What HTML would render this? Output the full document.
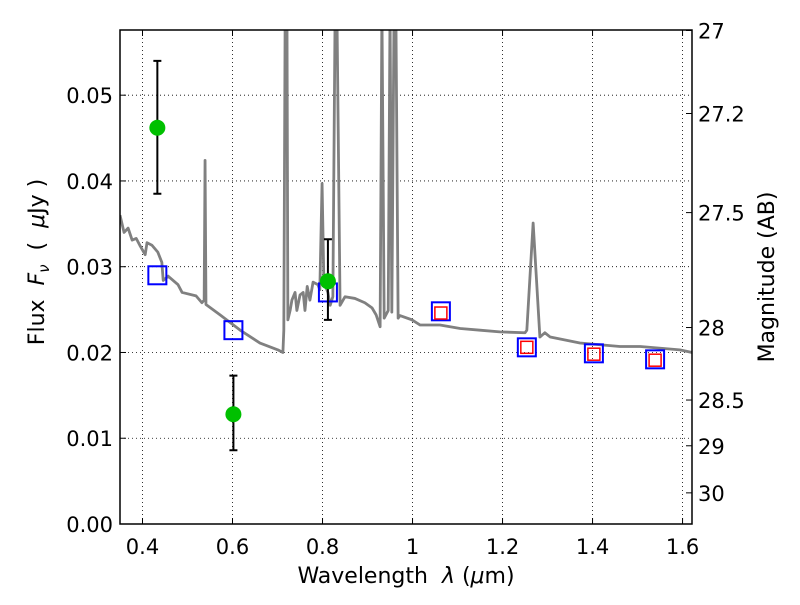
<!DOCTYPE html>
<html><head><meta charset="utf-8"><style>
body{margin:0;background:#fff;}
svg text{font-family:"DejaVu Sans","Liberation Sans",sans-serif;fill:#000;}
</style></head><body>
<svg id="c" width="800" height="600" xmlns="http://www.w3.org/2000/svg"></svg>
<script>
const specLam=[0.350,0.359,0.368,0.377,0.386,0.394,0.406,0.410,0.421,0.434,0.443,0.446,0.457,0.479,0.488,0.519,0.532,0.537,0.539,0.541,0.572,0.617,0.661,0.701,0.712,0.714,0.717,0.721,0.723,0.728,0.732,0.739,0.743,0.750,0.757,0.761,0.766,0.772,0.779,0.790,0.794,0.799,0.803,0.812,0.817,0.823,0.828,0.832,0.839,0.850,0.872,0.894,0.910,0.919,0.928,0.932,0.937,0.946,0.950,0.954,0.959,0.963,0.968,0.972,0.999,1.017,1.061,1.106,1.150,1.194,1.250,1.254,1.268,1.283,1.294,1.306,1.372,1.461,1.506,1.594,1.621];
const specFlux=[0.0360,0.0340,0.0345,0.0331,0.0333,0.0325,0.0314,0.0328,0.0325,0.0317,0.0305,0.0284,0.0289,0.0279,0.0270,0.0266,0.0258,0.0261,0.0424,0.0256,0.0244,0.0226,0.0211,0.0203,0.0200,0.0226,0.0600,0.0600,0.0238,0.0249,0.0261,0.0270,0.0249,0.0267,0.0270,0.0249,0.0277,0.0261,0.0282,0.0279,0.0273,0.0397,0.0282,0.0270,0.0255,0.0265,0.0600,0.0600,0.0255,0.0265,0.0263,0.0258,0.0252,0.0244,0.0230,0.0600,0.0240,0.0249,0.0600,0.0247,0.0600,0.0600,0.0240,0.0243,0.0238,0.0232,0.0232,0.0228,0.0226,0.0224,0.0223,0.0226,0.0351,0.0218,0.0223,0.0218,0.0211,0.0207,0.0207,0.0203,0.0200];
const obsLam=[0.433,0.602,0.812];
const obsFlux=[0.0462,0.0128,0.0283];
const obsLo=[0.0385,0.0086,0.0238];
const obsHi=[0.0540,0.0173,0.0332];
const modLam=[0.433,0.602,0.812,1.063,1.254,1.403,1.539];
const modFlux=[0.0290,0.0226,0.0270,0.0248,0.0206,0.0199,0.0192];
const modRedLam=[1.063,1.254,1.403,1.539];
const modRedFlux=[0.0246,0.0206,0.0198,0.0191];
const xTicks=[0.4,0.6,0.8,1.0,1.2,1.4,1.6];
const xTickLabels=["0.4","0.6","0.8","1","1.2","1.4","1.6"];
const yTicks=[0,0.01,0.02,0.03,0.04,0.05];
const yTickLabels=["0.00","0.01","0.02","0.03","0.04","0.05"];
const magTicks=[27,27.2,27.5,28,28.5,29,30];
const magTickLabels=["27","27.2","27.5","28","28.5","29","30"];

const L=120,R=692,T=30,B=524,x0=0.35,x1=1.621,y0=0,y1=0.0576;
const sx=v=>L+(v-x0)/(x1-x0)*(R-L);
const sy=v=>B-(v-y0)/(y1-y0)*(B-T);
const mag2f=m=>Math.pow(10,(23.9-m)/2.5);
const svg=document.getElementById('c');
const NS='http://www.w3.org/2000/svg';
function mk(t,a,p){const e=document.createElementNS(NS,t);for(const k in a)e.setAttribute(k,a[k]);(p||svg).appendChild(e);return e;}
const defs=mk('defs',{});const cp=mk('clipPath',{id:'clip'},defs);mk('rect',{x:L,y:T,width:R-L,height:B-T},cp);

xTicks.forEach((v,i)=>{const x=sx(v);
 const g=mk('line',{x1:x,x2:x,y1:T,y2:B,stroke:'#000','stroke-width':0.8,'stroke-dasharray':'1,3'});
 
 mk('line',{x1:x,x2:x,y1:B,y2:B-6,stroke:'#000'});mk('line',{x1:x,x2:x,y1:T,y2:T+6,stroke:'#000'});
 const t=mk('text',{x:x,y:B+30,'text-anchor':'middle','font-size':21});t.textContent=xTickLabels[i];
 });
yTicks.forEach((v,i)=>{const y=sy(v);
 const g=mk('line',{x1:L,x2:R,y1:y,y2:y,stroke:'#000','stroke-width':0.8,'stroke-dasharray':'1,3'});
 
 mk('line',{x1:L,x2:L+6,y1:y,y2:y,stroke:'#000'});
 const t=mk('text',{x:L-7,y:y+8,'text-anchor':'end','font-size':21});t.textContent=yTickLabels[i];
 });
magTicks.forEach((m,i)=>{const y=sy(mag2f(m));
 mk('line',{x1:R,x2:R-6,y1:y,y2:y,stroke:'#000'});
 const t=mk('text',{x:R+6,y:y+8,'font-size':21});t.textContent=magTickLabels[i];
 });

const sp=mk('polyline',{points:specLam.map((l,i)=>sx(l)+','+sy(specFlux[i])).join(' '),fill:'none',stroke:'#808080','stroke-width':2.8,'stroke-linejoin':'round','clip-path':'url(#clip)'});


modLam.forEach((l,i)=>{const r=mk('rect',{x:sx(l)-9,y:sy(modFlux[i])-9,width:18,height:18,fill:'none',stroke:'#0000ff','stroke-width':2});
 });
modRedLam.forEach((l,i)=>{const r=mk('rect',{x:sx(l)-6,y:sy(modRedFlux[i])-6,width:12,height:12,fill:'none',stroke:'#ff0000','stroke-width':1.5});
 });

obsLam.forEach((l,i)=>{const x=sx(l);
 const e=mk('path',{d:`M${x},${sy(obsLo[i])}V${sy(obsHi[i])}M${x-4},${sy(obsLo[i])}h8M${x-4},${sy(obsHi[i])}h8`,stroke:'#000','stroke-width':2,fill:'none'});
 
 const c=mk('circle',{cx:x,cy:sy(obsFlux[i]),r:8,fill:'#00c000'});
 });

const fr=mk('rect',{x:L,y:T,width:R-L,height:B-T,fill:'none',stroke:'#000','stroke-width':1.5});

</script>
<svg width="800" height="600" style="position:absolute;left:0;top:0">
<text x="406" y="583" text-anchor="middle" font-size="22" xml:space="preserve">Wavelength  <tspan font-style="italic">λ</tspan> (<tspan font-style="italic">μ</tspan>m)</text>
<text transform="translate(44,262) rotate(-90)" text-anchor="middle" font-size="22" xml:space="preserve">Flux  <tspan font-style="italic">F</tspan><tspan font-style="italic" font-size="15" dy="5">ν</tspan><tspan dy="-5">  (  </tspan><tspan font-style="italic">μ</tspan>Jy )</text>
<text transform="translate(774,277) rotate(-90)" text-anchor="middle" font-size="22">Magnitude (AB)</text>
</svg>
</body></html>
